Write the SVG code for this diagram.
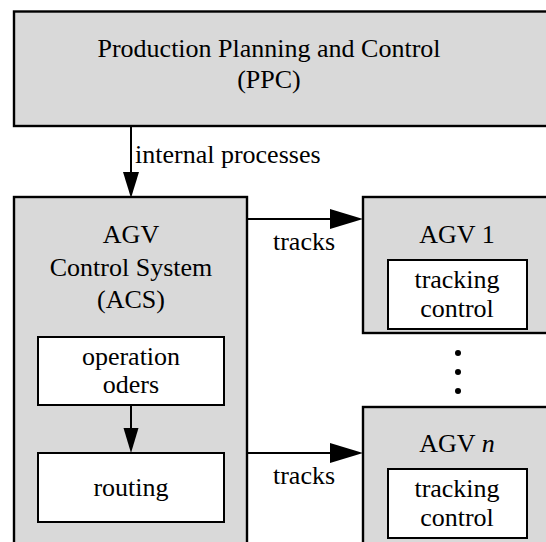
<svg xmlns="http://www.w3.org/2000/svg" width="546" height="542" viewBox="0 0 546 542">
<style>
.box{fill:#d9d9d9;stroke:#000;stroke-width:2.4}
.inner{fill:#fff;stroke:#000;stroke-width:2}
text{font-family:"Liberation Serif","Times New Roman",serif;font-size:26px;fill:#000;text-anchor:middle}
.conn{stroke:#000;stroke-width:2;fill:none}
.head{fill:#000}
</style>
<rect width="546" height="542" fill="#fff"/>
<g id="ppc">
<rect class="box" x="14" y="11.5" width="560" height="114.5"/>
<text x="269" y="57">Production Planning and Control</text>
<text x="269" y="88">(PPC)</text>
</g>
<g id="acs">
<rect class="box" x="14" y="197" width="233" height="360"/>
<text x="131" y="243">AGV</text>
<text x="131" y="276">Control System</text>
<text x="131" y="308">(ACS)</text>
</g>
<g id="operation-orders">
<rect class="inner" x="38" y="337" width="186" height="68"/>
<text x="131" y="365">operation</text>
<text x="131" y="393">oders</text>
</g>
<g id="routing">
<rect class="inner" x="38" y="453" width="186" height="69"/>
<text x="131" y="496">routing</text>
</g>
<g id="agv1">
<rect class="box" x="363" y="197" width="200" height="136"/>
<text x="457" y="243">AGV 1</text>
<rect class="inner" x="388" y="260" width="139" height="69"/>
<text x="457" y="288">tracking</text>
<text x="457" y="317">control</text>
</g>
<g id="dots">
<circle cx="458" cy="353" r="3"/>
<circle cx="458" cy="372" r="3"/>
<circle cx="458" cy="391" r="3"/>
</g>
<g id="agvn">
<rect class="box" x="363" y="407" width="200" height="160"/>
<text x="457" y="452">AGV <tspan font-style="italic">n</tspan></text>
<rect class="inner" x="388" y="469" width="139" height="69"/>
<text x="457" y="497">tracking</text>
<text x="457" y="526">control</text>
</g>
<g id="connectors">
<line class="conn" x1="131" y1="126" x2="131" y2="176"/>
<polygon class="head" points="123,172 139,172 131,198"/>
<text x="135" y="163" style="text-anchor:start">internal processes</text>
<line class="conn" x1="131" y1="405" x2="131" y2="430"/>
<polygon class="head" points="123.5,428 138.5,428 131,453"/>
<line class="conn" x1="247" y1="219" x2="334" y2="219"/>
<polygon class="head" points="330,209 363,219 330,229"/>
<text x="304" y="250">tracks</text>
<line class="conn" x1="247" y1="453" x2="334" y2="453"/>
<polygon class="head" points="330,443 363,453 330,463"/>
<text x="304" y="484">tracks</text>
</g>
</svg>
